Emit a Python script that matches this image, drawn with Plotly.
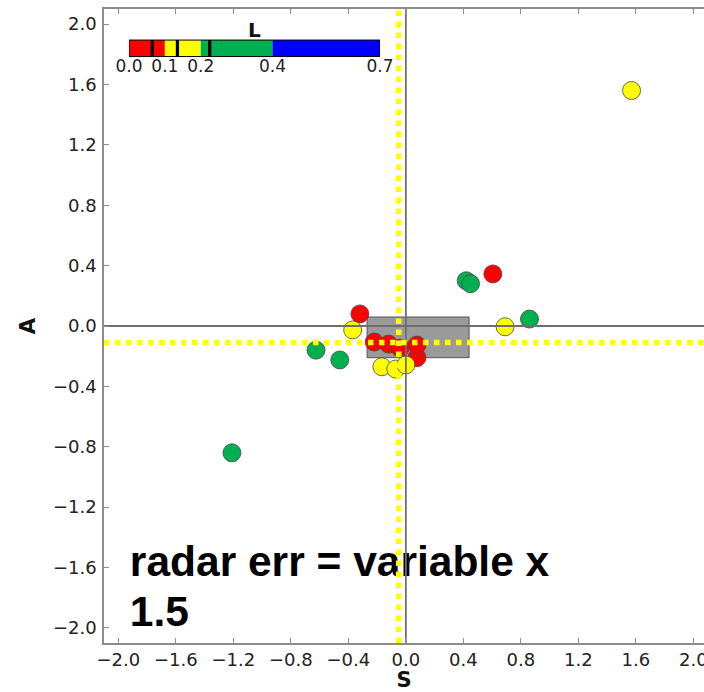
import plotly.graph_objects as go

# ---- data ----
S_vals = [1.57, 0.605, 0.42, 0.45, 0.86, 0.69, -0.32, -0.37, -0.625, -0.46, -1.21,
          -0.22, -0.12, 0.077, 0.077, -0.04, -0.167, -0.07, 0.0]
A_vals = [1.56, 0.345, 0.30, 0.28, 0.046, -0.005, 0.08, -0.026, -0.16, -0.225, -0.84,
          -0.106, -0.12, -0.21, -0.126, -0.146, -0.27, -0.285, -0.258]
L_vals = [0.15, 0.05, 0.30, 0.30, 0.30, 0.15, 0.05, 0.15, 0.30, 0.30, 0.30,
          0.05, 0.05, 0.05, 0.05, 0.05, 0.15, 0.15, 0.15]

S_thresh = -0.05      # vertical yellow dotted line
A_thresh = -0.11      # horizontal yellow dotted line
box_S = [-0.27, 0.44]
box_A = [-0.21, 0.06]

L_bounds = [0.0, 0.1, 0.2, 0.4, 0.7]
L_colors = ["#ff0000", "#ffff00", "#00b050", "#0000ff"]
L_marks = [0.065, 0.135, 0.225]
L_ticks = [0.0, 0.1, 0.2, 0.4, 0.7]

ticks = [-2.0, -1.6, -1.2, -0.8, -0.4, 0.0, 0.4, 0.8, 1.2, 1.6, 2.0]
note_lines = ["<b>radar err = variable x</b>", "<b>1.5</b>"]
note_S = [-1.92, -1.92]
note_A = [-1.585, -1.92]

# discrete colorscale from bounds
Lmax = L_bounds[-1]
cscale = []
for i, c in enumerate(L_colors):
    cscale.append([L_bounds[i] / Lmax, c])
    cscale.append([L_bounds[i + 1] / Lmax, c])

fig = go.Figure()

# points
fig.add_trace(go.Scatter(
    x=S_vals, y=A_vals, mode="markers",
    marker=dict(size=18, color=L_vals, colorscale=cscale, cmin=0, cmax=Lmax,
                line=dict(color="rgba(70,70,70,0.8)", width=1)),
    showlegend=False, hoverinfo="skip"))

# note text (under the lines)
fig.add_trace(go.Scatter(
    x=note_S, y=note_A, mode="text", text=note_lines, textposition="middle right",
    textfont=dict(family="Liberation Sans, Arial", size=42.5, color="black"),
    showlegend=False, hoverinfo="skip", cliponaxis=False))

XR = [-2.1, 2.074]
YR = [-2.1, 2.1]

# zero lines
fig.add_trace(go.Scatter(x=XR, y=[0, 0], mode="lines",
                         line=dict(color="rgba(110,110,110,1)", width=1.8),
                         showlegend=False, hoverinfo="skip"))
fig.add_trace(go.Scatter(x=[0, 0], y=YR, mode="lines",
                         line=dict(color="rgba(110,110,110,1)", width=1.8),
                         showlegend=False, hoverinfo="skip"))
# threshold dotted lines
fig.add_trace(go.Scatter(x=XR, y=[A_thresh, A_thresh], mode="lines",
                         line=dict(color="#ffff00", width=5.5, dash="5.5px,5.5px"),
                         showlegend=False, hoverinfo="skip"))
fig.add_trace(go.Scatter(x=[S_thresh, S_thresh], y=YR, mode="lines",
                         line=dict(color="#ffff00", width=5.5, dash="5.5px,5.5px"),
                         showlegend=False, hoverinfo="skip"))

# colour key bar
for i, c in enumerate(L_colors):
    fig.add_trace(go.Bar(
        x=[L_bounds[i + 1] - L_bounds[i]], base=[L_bounds[i]], y=[0],
        orientation="h", width=1, marker=dict(color=c, line=dict(width=0)),
        xaxis="x2", yaxis="y2", showlegend=False, hoverinfo="skip"))
fig.add_trace(go.Bar(
    x=[0.009] * len(L_marks), base=[m - 0.0045 for m in L_marks], y=[0] * len(L_marks),
    orientation="h", width=1, marker=dict(color="black", line=dict(width=0)),
    xaxis="x2", yaxis="y2", showlegend=False, hoverinfo="skip"))

fig.add_shape(type="rect", xref="x", yref="y",
              x0=box_S[0], x1=box_S[1], y0=box_A[0], y1=box_A[1],
              fillcolor="rgba(100,100,100,0.65)",
              line=dict(color="rgba(60,60,60,0.8)", width=1), layer="below")
fig.add_shape(type="rect", xref="x2", yref="y2 domain",
              x0=L_bounds[0], x1=L_bounds[-1], y0=0, y1=1,
              line=dict(color="black", width=1), layer="above")

tickfont = dict(family="DejaVu Sans", size=18, color="#222222")
axis_common = dict(showgrid=False, zeroline=False, showline=True, linecolor="#8c8c8c",
                   linewidth=1.5, ticks="inside", ticklen=5,
                   tickcolor="#8c8c8c", tickwidth=1, tickvals=ticks, tickformat=".1f",
                   tickfont=tickfont, automargin=False, ticklabeloverflow="allow")

fig.update_layout(
    width=704, height=692,
    margin=dict(l=104, r=0, t=9, b=49, autoexpand=False),
    plot_bgcolor="white", paper_bgcolor="white",
    barmode="overlay",
    xaxis=dict(range=XR, mirror="allticks", title=dict(text="<b>S</b>", standoff=2,
               font=dict(family="DejaVu Sans", size=21, color="#111")),
               **axis_common),
    yaxis=dict(range=YR, mirror=False, title=dict(text="<b>A</b>", standoff=12,
               font=dict(family="DejaVu Sans", size=21, color="#111")),
               ticklabelstandoff=2, **axis_common),
    xaxis2=dict(domain=[0.0417, 0.46], anchor="y2", range=[L_bounds[0], L_bounds[-1]],
                showgrid=False, zeroline=False, showline=False, ticks="",
                tickvals=L_ticks, tickformat=".1f",
                tickfont=dict(family="DejaVu Sans", size=17, color="#222222"),
                ticklabelstandoff=-3, automargin=False),
    yaxis2=dict(domain=[0.925, 0.951], anchor="x2", range=[-0.5, 0.5],
                visible=False, fixedrange=True),
    annotations=[dict(text="<b>L</b>", xref="x2", yref="paper",
                      x=(L_bounds[0] + L_bounds[-1]) / 2, y=0.967, yanchor="middle",
                      showarrow=False, font=dict(family="DejaVu Sans", size=20, color="#111"))],
)

fig.write_html("out.html", config={"displayModeBar": False},
               post_script="document.body.style.margin='0';document.body.style.overflow='hidden';")
